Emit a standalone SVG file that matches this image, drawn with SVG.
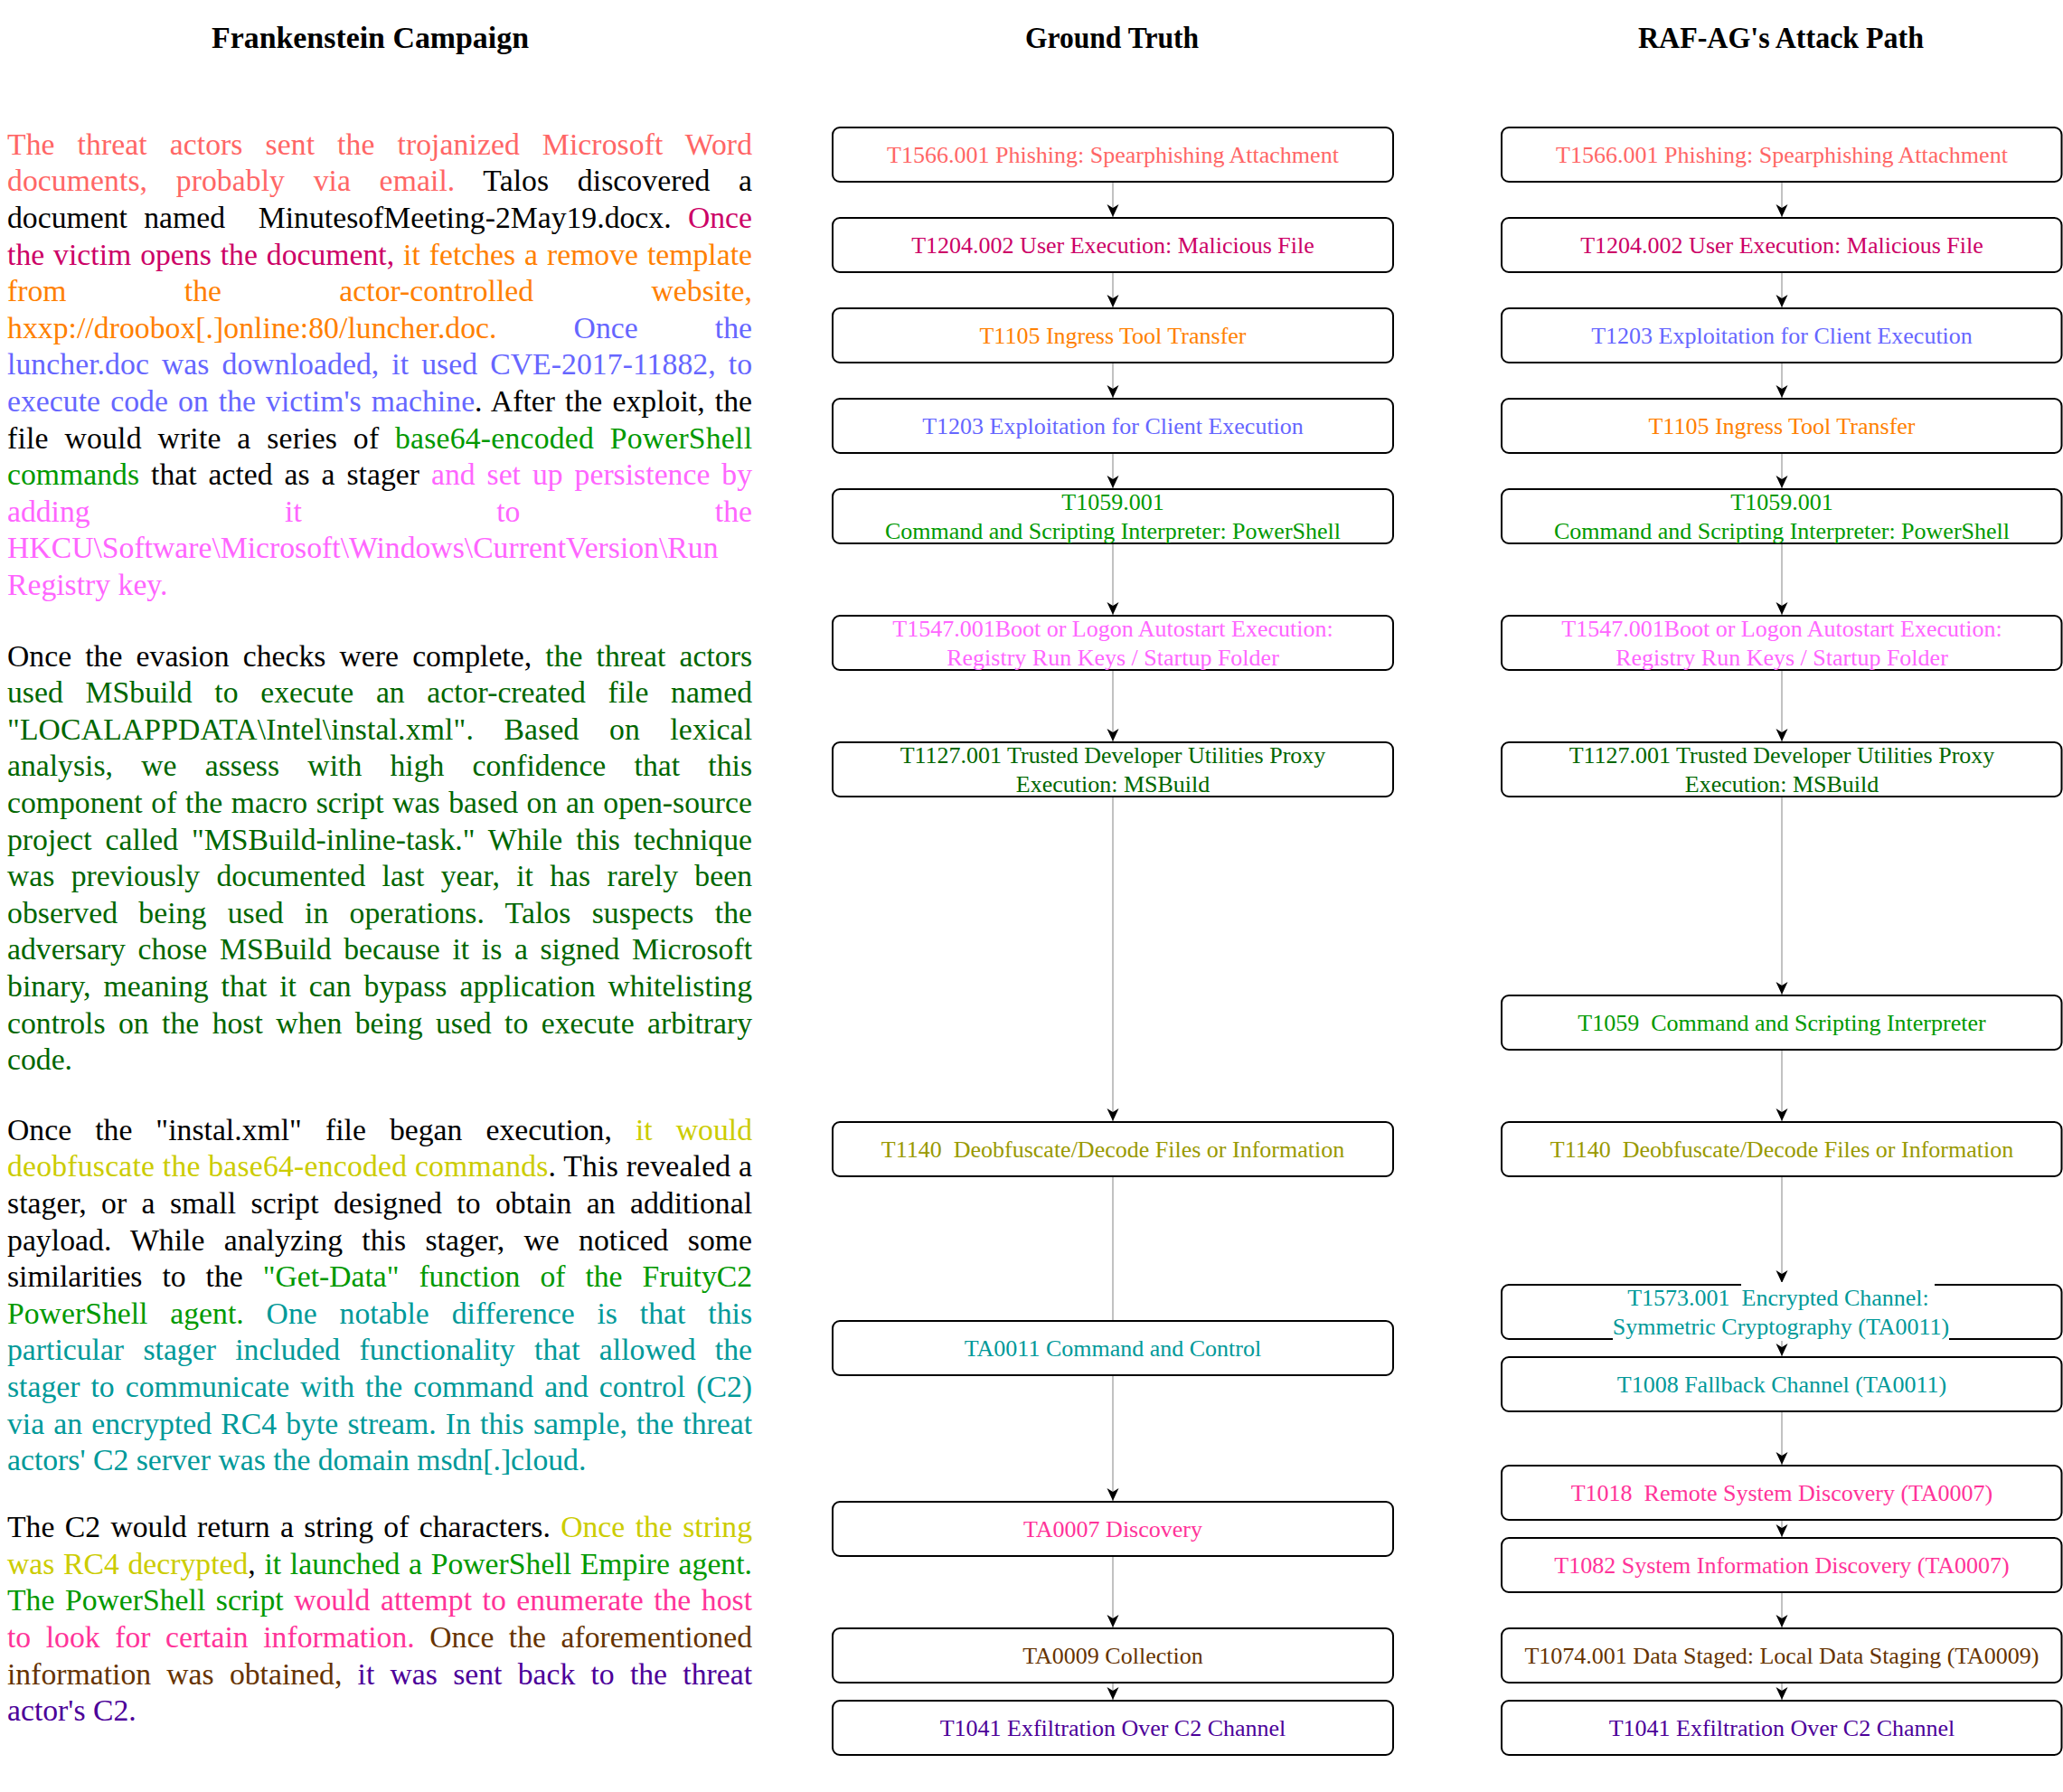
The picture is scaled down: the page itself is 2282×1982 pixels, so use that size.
<svg xmlns="http://www.w3.org/2000/svg" width="2282" height="1982" viewBox="0 0 2282 1982">
  <style>
    .title { font-family: "Liberation Serif", "Times New Roman", serif; font-size: 33px; font-weight: bold; fill: #000; text-anchor: middle; }
    .body { font-family: "Liberation Serif", "Times New Roman", serif; font-size: 33.7px; fill: #000; }
    .box { fill: #fff; stroke: #000; stroke-width: 2; }
    .lbl { font-family: "Liberation Serif", "Times New Roman", serif; font-size: 26px; text-anchor: middle; }
    .edge { stroke: #b3b3b3; stroke-width: 1.6; fill: none; }
    .c-coral { fill: #ff6666; }
    .c-crimson { fill: #cc0066; }
    .c-orange { fill: #ff8000; }
    .c-blue { fill: #6666ff; }
    .c-green { fill: #009900; }
    .c-magenta { fill: #ff66ff; }
    .c-dkgreen { fill: #006600; }
    .c-yellow { fill: #cccc00; }
    .c-olive { fill: #999900; }
    .c-teal { fill: #009999; }
    .c-pink { fill: #ff3399; }
    .c-brown { fill: #663300; }
    .c-purple { fill: #4c0099; }
    .c-black { fill: #000; }
  </style>
  <defs>
    <marker id="arrow" markerUnits="userSpaceOnUse" viewBox="0 0 14 14" refX="14" refY="7" markerWidth="14" markerHeight="14" orient="auto">
      <path d="M0,0.5 L14,7 L0,13.5 L4,7 Z" fill="#000"/>
    </marker>
  </defs>
  <rect x="0" y="0" width="2282" height="1982" fill="#fff"/>

  <!-- column headings -->
  <g id="headings">
    <text class="title" x="409.5" y="53" textLength="351" lengthAdjust="spacingAndGlyphs">Frankenstein Campaign</text>
    <text class="title" x="1230" y="53" textLength="192" lengthAdjust="spacingAndGlyphs">Ground Truth</text>
    <text class="title" x="1970" y="53" textLength="316" lengthAdjust="spacingAndGlyphs">RAF-AG's Attack Path</text>
  </g>

  <!-- campaign report, justified lines -->
  <g id="report" class="body" transform="translate(0,2.5)">
    <!-- paragraph 1 -->
    <text x="8" y="168.3" word-spacing="16.5" textLength="824" lengthAdjust="spacing"><tspan class="c-coral">The threat actors sent the trojanized Microsoft Word</tspan></text>
    <text x="8" y="208.9" word-spacing="23.1" textLength="824" lengthAdjust="spacing"><tspan class="c-coral">documents, probably via email.</tspan> Talos discovered a</text>
    <text x="8" y="249.5" word-spacing="9.9" textLength="824" lengthAdjust="spacing" xml:space="preserve">document named  MinutesofMeeting-2May19.docx. <tspan class="c-crimson">Once</tspan></text>
    <text x="8" y="290.1" word-spacing="1.5" textLength="824" lengthAdjust="spacing"><tspan class="c-crimson">the victim opens the document,</tspan><tspan class="c-orange"> it fetches a remove template</tspan></text>
    <text x="8" y="330.7" word-spacing="121.8" textLength="824" lengthAdjust="spacing"><tspan class="c-orange">from the actor-controlled website,</tspan></text>
    <text x="8" y="371.3" word-spacing="76.5" textLength="824" lengthAdjust="spacing"><tspan class="c-orange">hxxp://droobox[.]online:80/luncher.doc.</tspan><tspan class="c-blue"> Once the</tspan></text>
    <text x="8" y="411.9" word-spacing="5.5" textLength="824" lengthAdjust="spacing"><tspan class="c-blue">luncher.doc was downloaded, it used CVE-2017-11882, to</tspan></text>
    <text x="8" y="452.5" word-spacing="2.6" textLength="824" lengthAdjust="spacing"><tspan class="c-blue">execute code on the victim's machine</tspan>. After the exploit, the</text>
    <text x="8" y="493.1" word-spacing="9.0" textLength="824" lengthAdjust="spacing">file would write a series of <tspan class="c-green">base64-encoded PowerShell</tspan></text>
    <text x="8" y="533.7" word-spacing="4.5" textLength="824" lengthAdjust="spacing"><tspan class="c-green">commands</tspan> that acted as a stager <tspan class="c-magenta">and set up persistence by</tspan></text>
    <text x="8" y="574.3" word-spacing="207" textLength="824" lengthAdjust="spacing"><tspan class="c-magenta">adding it to the</tspan></text>
    <text x="8" y="614.9" class="c-magenta">HKCU\Software\Microsoft\Windows\CurrentVersion\Run</text>
    <text x="8" y="655.5" class="c-magenta">Registry key.</text>

    <!-- paragraph 2 -->
    <text x="8" y="734" word-spacing="6.7" textLength="824" lengthAdjust="spacing">Once the evasion checks were complete, <tspan class="c-dkgreen">the threat actors</tspan></text>
    <text x="8" y="774.6" word-spacing="16.2" textLength="824" lengthAdjust="spacing" class="c-dkgreen">used MSbuild to execute an actor-created file named</text>
    <text x="8" y="815.2" word-spacing="24.9" textLength="824" lengthAdjust="spacing" class="c-dkgreen">"LOCALAPPDATA\Intel\instal.xml". Based on lexical</text>
    <text x="8" y="855.8" word-spacing="22.8" textLength="824" lengthAdjust="spacing" class="c-dkgreen">analysis, we assess with high confidence that this</text>
    <text x="8" y="896.4" word-spacing="1.2" textLength="824" lengthAdjust="spacing" class="c-dkgreen">component of the macro script was based on an open-source</text>
    <text x="8" y="937" word-spacing="6.5" textLength="824" lengthAdjust="spacing" class="c-dkgreen">project called "MSBuild-inline-task." While this technique</text>
    <text x="8" y="977.6" word-spacing="9.8" textLength="824" lengthAdjust="spacing" class="c-dkgreen">was previously documented last year, it has rarely been</text>
    <text x="8" y="1018.2" word-spacing="14.8" textLength="824" lengthAdjust="spacing" class="c-dkgreen">observed being used in operations. Talos suspects the</text>
    <text x="8" y="1058.8" word-spacing="5.2" textLength="824" lengthAdjust="spacing" class="c-dkgreen">adversary chose MSBuild because it is a signed Microsoft</text>
    <text x="8" y="1099.4" word-spacing="5.4" textLength="824" lengthAdjust="spacing" class="c-dkgreen">binary, meaning that it can bypass application whitelisting</text>
    <text x="8" y="1140" word-spacing="6.0" textLength="824" lengthAdjust="spacing" class="c-dkgreen">controls on the host when being used to execute arbitrary</text>
    <text x="8" y="1180.6" class="c-dkgreen">code.</text>

    <!-- paragraph 3 -->
    <text x="8" y="1258.3" word-spacing="17.6" textLength="824" lengthAdjust="spacing">Once the "instal.xml" file began execution, <tspan class="c-yellow">it would</tspan></text>
    <text x="8" y="1298.9" textLength="824" lengthAdjust="spacing"><tspan class="c-yellow">deobfuscate the base64-encoded commands</tspan>. This revealed a</text>
    <text x="8" y="1339.5" word-spacing="7.9" textLength="824" lengthAdjust="spacing">stager, or a small script designed to obtain an additional</text>
    <text x="8" y="1380.1" word-spacing="12.8" textLength="824" lengthAdjust="spacing">payload. While analyzing this stager, we noticed some</text>
    <text x="8" y="1420.7" word-spacing="13.6" textLength="824" lengthAdjust="spacing">similarities to the <tspan class="c-green">"Get-Data" function of the FruityC2</tspan></text>
    <text x="8" y="1461.3" word-spacing="16.4" textLength="824" lengthAdjust="spacing"><tspan class="c-green">PowerShell agent.</tspan><tspan class="c-teal"> One notable difference is that this</tspan></text>
    <text x="8" y="1501.9" word-spacing="12.9" textLength="824" lengthAdjust="spacing" class="c-teal">particular stager included functionality that allowed the</text>
    <text x="8" y="1542.5" word-spacing="3.6" textLength="824" lengthAdjust="spacing" class="c-teal">stager to communicate with the command and control (C2)</text>
    <text x="8" y="1583.1" word-spacing="1.7" textLength="824" lengthAdjust="spacing" class="c-teal">via an encrypted RC4 byte stream. In this sample, the threat</text>
    <text x="8" y="1623.7" class="c-teal">actors' C2 server was the domain msdn[.]cloud.</text>

    <!-- paragraph 4 -->
    <text x="8" y="1697.7" word-spacing="2.9" textLength="824" lengthAdjust="spacing">The C2 would return a string of characters. <tspan class="c-yellow">Once the string</tspan></text>
    <text x="8" y="1738.3" word-spacing="1.2" textLength="824" lengthAdjust="spacing"><tspan class="c-yellow">was RC4 decrypted</tspan>,<tspan class="c-green"> it launched a PowerShell Empire agent.</tspan></text>
    <text x="8" y="1778.9" word-spacing="3.1" textLength="824" lengthAdjust="spacing"><tspan class="c-green">The PowerShell script </tspan><tspan class="c-pink">would attempt to enumerate the host</tspan></text>
    <text x="8" y="1819.5" word-spacing="8.1" textLength="824" lengthAdjust="spacing"><tspan class="c-pink">to look for certain information.</tspan><tspan class="c-brown"> Once the aforementioned</tspan></text>
    <text x="8" y="1860.1" word-spacing="8.8" textLength="824" lengthAdjust="spacing"><tspan class="c-brown">information was obtained,</tspan><tspan class="c-purple"> it was sent back to the threat</tspan></text>
    <text x="8" y="1900.7" class="c-purple">actor's C2.</text>
  </g>

  <!-- connectors (drawn beneath the nodes) -->
  <g id="connectors">
    <!-- ground truth chain -->
    <line class="edge" x1="1231" y1="201" x2="1231" y2="240" marker-end="url(#arrow)"/>
    <line class="edge" x1="1231" y1="301" x2="1231" y2="340" marker-end="url(#arrow)"/>
    <line class="edge" x1="1231" y1="401" x2="1231" y2="440" marker-end="url(#arrow)"/>
    <line class="edge" x1="1231" y1="501" x2="1231" y2="540" marker-end="url(#arrow)"/>
    <line class="edge" x1="1231" y1="601" x2="1231" y2="680" marker-end="url(#arrow)"/>
    <line class="edge" x1="1231" y1="741" x2="1231" y2="820" marker-end="url(#arrow)"/>
    <line class="edge" x1="1231" y1="881" x2="1231" y2="1240" marker-end="url(#arrow)"/>
    <line class="edge" x1="1231" y1="1301" x2="1231" y2="1461"/>
    <line class="edge" x1="1231" y1="1521" x2="1231" y2="1660" marker-end="url(#arrow)"/>
    <line class="edge" x1="1231" y1="1721" x2="1231" y2="1800" marker-end="url(#arrow)"/>
    <line class="edge" x1="1231" y1="1861" x2="1231" y2="1880" marker-end="url(#arrow)"/>
    <!-- generated attack path -->
    <line class="edge" x1="1971" y1="201" x2="1971" y2="240" marker-end="url(#arrow)"/>
    <line class="edge" x1="1971" y1="301" x2="1971" y2="340" marker-end="url(#arrow)"/>
    <line class="edge" x1="1971" y1="401" x2="1971" y2="440" marker-end="url(#arrow)"/>
    <line class="edge" x1="1971" y1="501" x2="1971" y2="540" marker-end="url(#arrow)"/>
    <line class="edge" x1="1971" y1="601" x2="1971" y2="680" marker-end="url(#arrow)"/>
    <line class="edge" x1="1971" y1="741" x2="1971" y2="820" marker-end="url(#arrow)"/>
    <line class="edge" x1="1971" y1="881" x2="1971" y2="1100" marker-end="url(#arrow)"/>
    <line class="edge" x1="1971" y1="1161" x2="1971" y2="1240" marker-end="url(#arrow)"/>
    <line class="edge" x1="1971" y1="1301" x2="1971" y2="1419" marker-end="url(#arrow)"/>
    <line class="edge" x1="1971" y1="1481" x2="1971" y2="1500" marker-end="url(#arrow)"/>
    <line class="edge" x1="1971" y1="1561" x2="1971" y2="1620" marker-end="url(#arrow)"/>
    <line class="edge" x1="1971" y1="1681" x2="1971" y2="1700" marker-end="url(#arrow)"/>
    <line class="edge" x1="1971" y1="1761" x2="1971" y2="1800" marker-end="url(#arrow)"/>
    <line class="edge" x1="1971" y1="1861" x2="1971" y2="1880" marker-end="url(#arrow)"/>
  </g>

  <!-- ground truth nodes -->
  <g id="gt-t1566">
    <rect class="box" x="921" y="141" width="620" height="60" rx="8"/>
    <text class="lbl c-coral" x="1231" y="180">T1566.001 Phishing: Spearphishing Attachment</text>
  </g>
  <g id="gt-t1204">
    <rect class="box" x="921" y="241" width="620" height="60" rx="8"/>
    <text class="lbl c-crimson" x="1231" y="280">T1204.002 User Execution: Malicious File</text>
  </g>
  <g id="gt-t1105">
    <rect class="box" x="921" y="341" width="620" height="60" rx="8"/>
    <text class="lbl c-orange" x="1231" y="380">T1105 Ingress Tool Transfer</text>
  </g>
  <g id="gt-t1203">
    <rect class="box" x="921" y="441" width="620" height="60" rx="8"/>
    <text class="lbl c-blue" x="1231" y="480">T1203 Exploitation for Client Execution</text>
  </g>
  <g id="gt-t1059-001">
    <rect class="box" x="921" y="541" width="620" height="60" rx="8"/>
    <text class="lbl c-green" x="1231" y="564">T1059.001</text>
    <text class="lbl c-green" x="1231" y="596">Command and Scripting Interpreter: PowerShell</text>
  </g>
  <g id="gt-t1547">
    <rect class="box" x="921" y="681" width="620" height="60" rx="8"/>
    <text class="lbl c-magenta" x="1231" y="704">T1547.001Boot or Logon Autostart Execution:</text>
    <text class="lbl c-magenta" x="1231" y="736">Registry Run Keys / Startup Folder</text>
  </g>
  <g id="gt-t1127">
    <rect class="box" x="921" y="821" width="620" height="60" rx="8"/>
    <text class="lbl c-dkgreen" x="1231" y="844">T1127.001 Trusted Developer Utilities Proxy</text>
    <text class="lbl c-dkgreen" x="1231" y="876">Execution: MSBuild</text>
  </g>
  <g id="gt-t1140">
    <rect class="box" x="921" y="1241" width="620" height="60" rx="8"/>
    <text class="lbl c-olive" x="1231" y="1280" xml:space="preserve">T1140  Deobfuscate/Decode Files or Information</text>
  </g>
  <g id="gt-ta0011">
    <rect class="box" x="921" y="1461" width="620" height="60" rx="8"/>
    <text class="lbl c-teal" x="1231" y="1500">TA0011 Command and Control</text>
  </g>
  <g id="gt-ta0007">
    <rect class="box" x="921" y="1661" width="620" height="60" rx="8"/>
    <text class="lbl c-pink" x="1231" y="1700">TA0007 Discovery</text>
  </g>
  <g id="gt-ta0009">
    <rect class="box" x="921" y="1801" width="620" height="60" rx="8"/>
    <text class="lbl c-brown" x="1231" y="1840">TA0009 Collection</text>
  </g>
  <g id="gt-t1041">
    <rect class="box" x="921" y="1881" width="620" height="60" rx="8"/>
    <text class="lbl c-purple" x="1231" y="1920">T1041 Exfiltration Over C2 Channel</text>
  </g>

  <!-- generated attack path nodes -->
  <g id="ag-t1566">
    <rect class="box" x="1661" y="141" width="619.5" height="60" rx="8"/>
    <text class="lbl c-coral" x="1971" y="180">T1566.001 Phishing: Spearphishing Attachment</text>
  </g>
  <g id="ag-t1204">
    <rect class="box" x="1661" y="241" width="619.5" height="60" rx="8"/>
    <text class="lbl c-crimson" x="1971" y="280">T1204.002 User Execution: Malicious File</text>
  </g>
  <g id="ag-t1203">
    <rect class="box" x="1661" y="341" width="619.5" height="60" rx="8"/>
    <text class="lbl c-blue" x="1971" y="380">T1203 Exploitation for Client Execution</text>
  </g>
  <g id="ag-t1105">
    <rect class="box" x="1661" y="441" width="619.5" height="60" rx="8"/>
    <text class="lbl c-orange" x="1971" y="480">T1105 Ingress Tool Transfer</text>
  </g>
  <g id="ag-t1059-001">
    <rect class="box" x="1661" y="541" width="619.5" height="60" rx="8"/>
    <text class="lbl c-green" x="1971" y="564">T1059.001</text>
    <text class="lbl c-green" x="1971" y="596">Command and Scripting Interpreter: PowerShell</text>
  </g>
  <g id="ag-t1547">
    <rect class="box" x="1661" y="681" width="619.5" height="60" rx="8"/>
    <text class="lbl c-magenta" x="1971" y="704">T1547.001Boot or Logon Autostart Execution:</text>
    <text class="lbl c-magenta" x="1971" y="736">Registry Run Keys / Startup Folder</text>
  </g>
  <g id="ag-t1127">
    <rect class="box" x="1661" y="821" width="619.5" height="60" rx="8"/>
    <text class="lbl c-dkgreen" x="1971" y="844">T1127.001 Trusted Developer Utilities Proxy</text>
    <text class="lbl c-dkgreen" x="1971" y="876">Execution: MSBuild</text>
  </g>
  <g id="ag-t1059">
    <rect class="box" x="1661" y="1101" width="619.5" height="60" rx="8"/>
    <text class="lbl c-green" x="1971" y="1140" xml:space="preserve">T1059  Command and Scripting Interpreter</text>
  </g>
  <g id="ag-t1140">
    <rect class="box" x="1661" y="1241" width="619.5" height="60" rx="8"/>
    <text class="lbl c-olive" x="1971" y="1280" xml:space="preserve">T1140  Deobfuscate/Decode Files or Information</text>
  </g>
  <g id="ag-t1573">
    <rect class="box" x="1661" y="1421" width="619.5" height="60" rx="8"/>
    <!-- label background spans overlap the border -->
    <rect x="1926" y="1418" width="214" height="31" fill="#fff"/>
    <rect x="1784" y="1452" width="372" height="31" fill="#fff"/>
    <text class="lbl c-teal" x="1967" y="1444" xml:space="preserve">T1573.001  Encrypted Channel:</text>
    <text class="lbl c-teal" x="1970" y="1476">Symmetric Cryptography (TA0011)</text>
  </g>
  <g id="ag-t1008">
    <rect class="box" x="1661" y="1501" width="619.5" height="60" rx="8"/>
    <text class="lbl c-teal" x="1971" y="1540">T1008 Fallback Channel (TA0011)</text>
  </g>
  <g id="ag-t1018">
    <rect class="box" x="1661" y="1621" width="619.5" height="60" rx="8"/>
    <text class="lbl c-pink" x="1971" y="1660" xml:space="preserve">T1018  Remote System Discovery (TA0007)</text>
  </g>
  <g id="ag-t1082">
    <rect class="box" x="1661" y="1701" width="619.5" height="60" rx="8"/>
    <text class="lbl c-pink" x="1971" y="1740">T1082 System Information Discovery (TA0007)</text>
  </g>
  <g id="ag-t1074">
    <rect class="box" x="1661" y="1801" width="619.5" height="60" rx="8"/>
    <text class="lbl c-brown" x="1971" y="1840">T1074.001 Data Staged: Local Data Staging (TA0009)</text>
  </g>
  <g id="ag-t1041">
    <rect class="box" x="1661" y="1881" width="619.5" height="60" rx="8"/>
    <text class="lbl c-purple" x="1971" y="1920">T1041 Exfiltration Over C2 Channel</text>
  </g>
</svg>
